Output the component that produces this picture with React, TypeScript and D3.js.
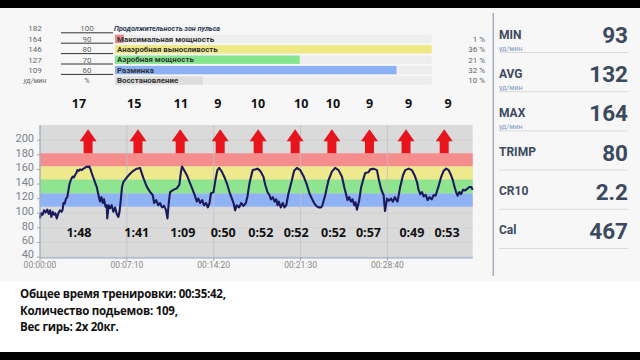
import React from "react";
import * as d3 from "d3";

// ---------- data ----------
const hrSeconds = [0,5,13,20,28,36,43,50,56,63,69,76,83,91,99,107,112,116,122,129,135,140,146,152,157,162,168,173,180,185,192,198,206,215,222,231,238,244,250,256,262,268,275,281,287,292,297,304,311,317,324,330,333,340,347,355,363,372,380,388,393,400,406,413,430,446,462,479,495,512,529,545,558,565,575,586,594,604,614,623,631,638,644,660,677,690,697,703,713,727,743,756,768,776,784,793,803,812,822,831,839,846,859,868,878,887,900,912,925,938,950,958,966,974,986,996,1007,1019,1027,1037,1049,1053,1065,1077,1090,1106,1115,1126,1136,1143,1153,1161,1169,1176,1182,1192,1202,1210,1219,1230,1247,1258,1272,1288,1304,1321,1334,1346,1357,1367,1379,1391,1397,1412,1428,1445,1461,1478,1495,1506,1516,1522,1531,1539,1547,1556,1562,1569,1579,1590,1602,1610,1626,1635,1651,1668,1678,1688,1694,1701,1708,1718,1727,1737,1747,1757,1764,1770,1783,1797,1808,1825,1841,1854,1866,1874,1883,1891,1899,1909,1919,1929,1939,1949,1958,1972,1985,1998,2011,2023,2035,2044,2052,2060,2067,2076,2084,2094,2105,2117,2127,2135,2142];
const hrBpm = [93,100,98,104,101,105,99,104,95,102,98,100,93,100,104,102,105,114,113,120,122,130,140,145,148,150,149,152,155,159,158,160,159,161,162,164,163,164,160,155,150,146,140,136,128,122,116,122,114,119,109,111,93,111,107,111,102,108,99,95,101,118,136,143,149,154,158,161,162,148,136,129,125,114,118,111,114,108,110,105,93,116,129,132,134,139,155,164,159,152,141,132,123,116,120,114,118,111,114,108,114,127,129,145,159,162,157,150,141,129,120,114,104,111,108,114,110,114,123,141,155,159,160,161,158,150,139,129,125,119,122,116,119,111,116,108,114,108,111,127,145,158,162,159,151,139,127,120,114,110,108,108,110,125,145,157,162,159,150,136,125,118,122,116,119,111,115,105,116,136,148,155,156,160,161,159,145,134,129,125,103,120,117,120,116,122,118,116,136,152,159,161,159,152,143,132,126,129,123,125,118,122,119,125,124,136,149,158,161,159,152,145,136,129,124,129,126,132,131,134,136,136,132,109];

const yTicks = [40, 60, 80, 100, 120, 140, 160, 180, 200];
const xTickSeconds = [0, 430, 860, 1290, 1720];
const xTickLabels = ["00:00:00", "00:07:10", "00:14:20", "00:21:30", "00:28:40"];
const totalSeconds = 2142;

// pulse zones (bpm bounds)
const zoneLow = [164, 146, 127, 109];
const zoneHigh = [182, 164, 146, 127];
const zoneColors = ["#f58d8d", "#eee98c", "#8ee48f", "#8fb2f4"];

// sets
const setPeakSeconds = [238, 485, 694, 892, 1080, 1263, 1445, 1631, 1812, 2001];
const setCountSeconds = [193, 466, 698, 880, 1079, 1293, 1450, 1631, 1824, 2020];
const setCounts = [17, 15, 11, 9, 10, 10, 10, 9, 9, 9];
const setDurSeconds = [193, 479, 707, 907, 1093, 1268, 1453, 1626, 1841, 2015];
const setDurations = ["1:48", "1:41", "1:09", "0:50", "0:52", "0:52", "0:52", "0:57", "0:49", "0:53"];

// header table
const bpmCol = ["182", "164", "146", "127", "109", "уд/мин"];
const pctCol = ["100", "90", "80", "70", "60", "%"];
const zoneTitle = "Продолжительность зон пульса";
const zoneNames = ["Максимальная мощность", "Анаэробная выносливость", "Аэробная мощность", "Разминка", "Восстановление"];
const zoneShare = [1, 36, 21, 32, 10];
const zoneBarColors = ["#e88c8c", "#efe985", "#86e68e", "#8cb0f5", "#dddddd"];

// stats
const statLabels = ["MIN", "AVG", "MAX", "TRIMP", "CR10", "Cal"];
const statValues = ["93", "132", "164", "80", "2.2", "467"];
const statUnits = ["уд/мин", "уд/мин", "уд/мин", "", "", ""];

const footerLines = [
  "Общее время тренировки: 00:35:42,",
  "Количество подьемов: 109,",
  "Вес гирь: 2х 20кг.",
];

// ---------- component ----------
export default function App() {
  const W = 640, H = 360;
  const pl = 40, pr = 472.7, pt = 125, pb = 258;
  const x = d3.scaleLinear().domain([0, totalSeconds]).range([pl, pr]);
  const y = d3.scaleLinear().domain([38.8, 220.7]).range([pb, pt]);
  const line = d3.line<number>().x((_, i) => x(hrSeconds[i])).y((v) => y(v));
  const hrPath = line(hrBpm) || "";

  const barX0 = 115, barX1 = 431.7;
  const barW = d3.scaleLinear().domain([0, d3.max(zoneShare) as number]).range([0, barX1 - barX0]);
  const rowY = (i: number) => 28.5 + i * 10.4;

  const arrowBase = y(182);
  const arrowPath = (cx: number) => {
    const hw = 8.5, sw = 4.5, headH = 12, total = 24;
    const top = arrowBase - total;
    return `M${cx},${top} L${cx + hw},${top + headH} L${cx + sw},${top + headH} L${cx + sw},${arrowBase} L${cx - sw},${arrowBase} L${cx - sw},${top + headH} L${cx - hw},${top + headH} Z`;
  };

  const font = "Roboto, 'Noto Sans', sans-serif";
  const dark = "#3c4a5e";

  return (
    <svg width={W} height={H} style={{ position: "absolute", left: 0, top: 0 }} fontFamily={font}>
      <rect x={0} y={0} width={W} height={H} fill="#ffffff" />
      <rect x={0} y={8} width={W} height={273} fill="#f7f7f7" />
      <rect x={0} y={0} width={W} height={8} fill="#000" />
      <rect x={0} y={352} width={W} height={8} fill="#000" />

      {/* header table */}
      {bpmCol.map((t, i) => (
        <text key={"b" + i} x={35} y={rowY(i)} dy="0.35em" textAnchor="middle" fontSize={i === 5 ? 7 : 8}
          fontStyle={i === 5 ? "italic" : "normal"} fill="#666">{t}</text>
      ))}
      {pctCol.map((t, i) => (
        <text key={"p" + i} x={87} y={rowY(i)} dy="0.35em" textAnchor="middle" fontSize={i === 5 ? 7 : 8} fill="#666">{t}</text>
      ))}
      {pctCol.slice(0, 5).map((_, i) => (
        <line key={"u" + i} x1={61} x2={113} y1={rowY(i) + 4.3} y2={rowY(i) + 4.3} stroke="#333" strokeWidth={1} />
      ))}
      <text x={114} y={rowY(0)} dy="0.35em" fontSize={7.2} fontWeight={700} fontStyle="italic" fill="#2e3a55">{zoneTitle}</text>
      {zoneNames.map((n, i) => (
        <g key={"z" + i}>
          <rect x={barX0} y={rowY(i + 1) - 4.2} width={barX1 - barX0} height={8.4} fill="#ededed" />
          <rect x={barX0} y={rowY(i + 1) - 4.2} width={barW(zoneShare[i])} height={8.4} fill={zoneBarColors[i]} />
          <text x={barX0 + 2} y={rowY(i + 1)} dy="0.35em" fontSize={7.9} fontWeight={700} fill="#333">{n}</text>
          <text x={485} y={rowY(i + 1)} dy="0.35em" textAnchor="end" fontSize={8} fill="#666">{zoneShare[i] + " %"}</text>
        </g>
      ))}

      {/* plot */}
      <rect x={pl} y={pt} width={pr - pl} height={pb - pt} fill="#dadada" />
      {yTicks.map((v) => (
        <line key={"gy" + v} x1={pl} x2={pr} y1={y(v)} y2={y(v)} stroke="#cfcfcf" strokeWidth={0.8} />
      ))}
      {zoneLow.map((lo, i) => (
        <rect key={"zb" + i} x={pl} y={y(zoneHigh[i])} width={pr - pl} height={y(lo) - y(zoneHigh[i])} fill={zoneColors[i]} />
      ))}
      {xTickSeconds.map((s) => (
        <line key={"gx" + s} x1={x(s)} x2={x(s)} y1={pt} y2={pb} stroke="#c2c2c2" strokeWidth={0.8} />
      ))}
      <path d={hrPath} fill="none" stroke="#1b1a5c" strokeWidth={2.1} strokeLinejoin="round" />
      <line x1={pl} x2={pl} y1={pt} y2={pb} stroke="#9aa8b8" strokeWidth={1} />
      <line x1={pl} x2={pr} y1={pb} y2={pb} stroke="#8ea6c4" strokeWidth={1} />
      {yTicks.map((v) => (
        <g key={"ty" + v}>
          <line x1={pl - 3} x2={pl} y1={y(v)} y2={y(v)} stroke="#9aa8b8" />
          <text x={pl - 6} y={y(v) - (v === 40 ? 2.5 : 2)} dy="0.35em" textAnchor="end" fontSize={11} fill="#7a8290">{v}</text>
        </g>
      ))}
      {xTickSeconds.map((s, i) => (
        <g key={"tx" + s}>
          <line x1={x(s)} x2={x(s)} y1={pb} y2={pb + 3} stroke="#9aa8b8" />
          <text x={x(s)} y={pb + 7.5} dy="0.35em" textAnchor="middle" fontSize={8.5} fill="#888">{xTickLabels[i]}</text>
        </g>
      ))}
      {setPeakSeconds.map((s, i) => (
        <path key={"a" + i} d={arrowPath(x(s))} fill="#e8141c" />
      ))}
      {setCounts.map((c, i) => (
        <text key={"c" + i} x={x(setCountSeconds[i])} y={104} dy="0.35em" textAnchor="middle" fontSize={12.5}
          fontWeight={700} fontFamily="'Open Sans', sans-serif" fill="#111">{c}</text>
      ))}
      {setDurations.map((d, i) => (
        <text key={"d" + i} x={x(setDurSeconds[i])} y={233} dy="0.35em" textAnchor="middle" fontSize={12.5}
          fontWeight={700} fontFamily="'Open Sans', sans-serif" fill="#111">{d}</text>
      ))}

      {/* right stats */}
      <line x1={493.3} x2={493.3} y1={13} y2={276} stroke="#a3adbb" strokeWidth={1.5} />
      {statLabels.map((l, i) => {
        const base = i * 39.2;
        const vb = 43 + base;
        const hasUnit = statUnits[i] !== "";
        return (
          <g key={"s" + i}>
            <text x={499} y={hasUnit ? vb - 4 : vb - 5} fontSize={12} fontWeight={700} fill={dark}>{l}</text>
            {hasUnit && <text x={499} y={51 + base} fontSize={7} fill="#7b9cc4">{statUnits[i]}</text>}
            <text x={628} y={vb} textAnchor="end" fontSize={22.5} fontWeight={700} fill={dark}>{statValues[i]}</text>
            <line x1={499} x2={628} y1={52.5 + base} y2={52.5 + base} stroke="#dcdcdc" strokeWidth={1} />
          </g>
        );
      })}

      {/* footer */}
      {footerLines.map((t, i) => (
        <text key={"f" + i} x={20} y={298 + i * 16.5} fontSize={11.5} fontWeight={700} letterSpacing={-0.25}
          fontFamily="'Open Sans', sans-serif" fill="#111">{t}</text>
      ))}
    </svg>
  );
}
